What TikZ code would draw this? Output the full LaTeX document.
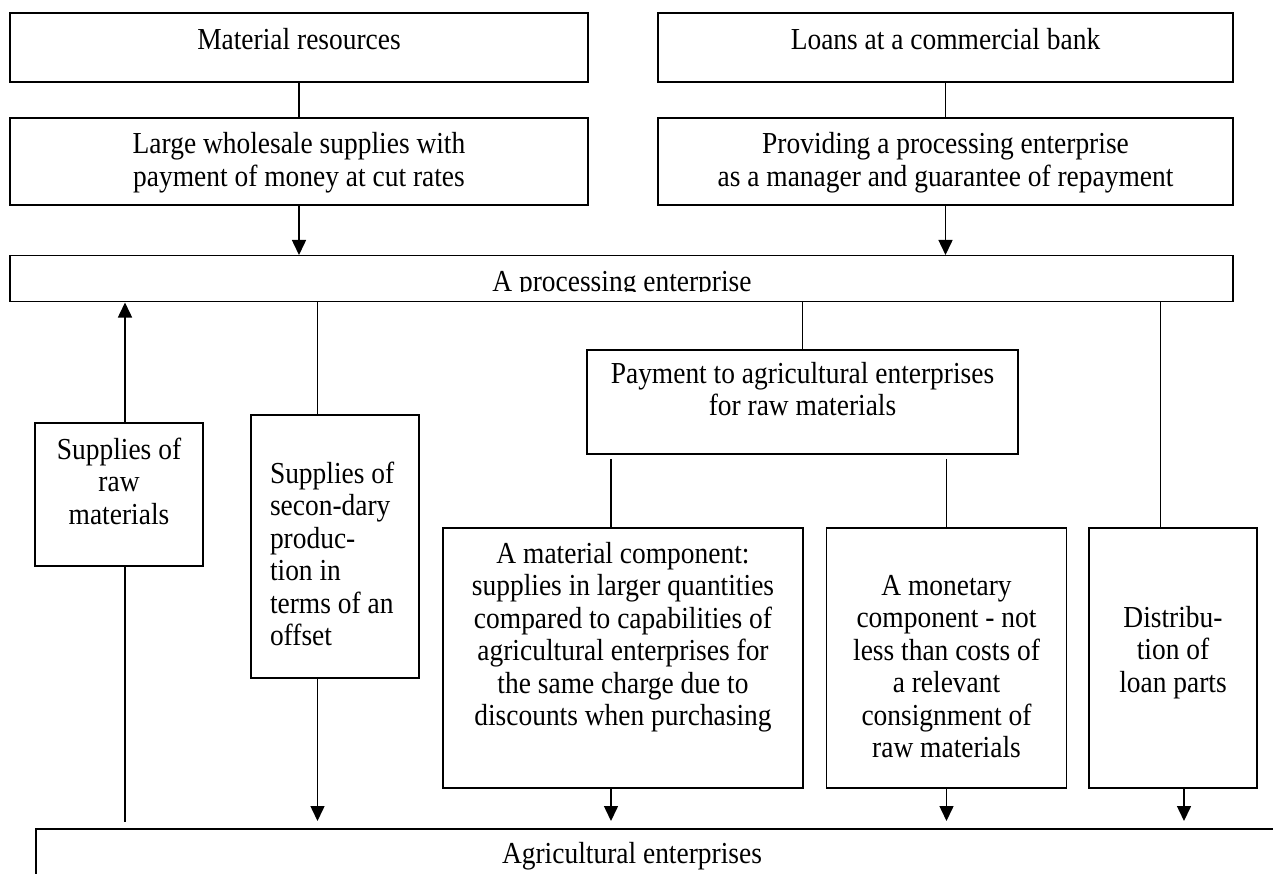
\documentclass[tikz,border=0pt]{standalone}
\usepackage{fontspec}
\setmainfont[FakeStretch=0.9]{Liberation Serif}
\usetikzlibrary{arrows.meta}
\usetikzlibrary{positioning}
\newcommand{\boxfont}{\fontsize{30.5}{32.5}\selectfont}
\tikzset{
box/.style = {draw, line width=1.5pt, inner xsep=10pt, inner ysep=0pt,
              align=flush center, font=\boxfont},
link/.style = {line width=1.5pt},
arr/.style = {line width=1.5pt, -{Triangle[width=14pt,length=15pt]}}
}
\begin{document}
\begin{tikzpicture}[x=1pt,y=-1pt]
        \clip (0,0) rectangle (1273,874);

        \node[box, anchor=base, text width=558pt, text height=36.5pt, text depth=32.5pt] (matres) at (299,49.5) {Material resources};
        \node[box, anchor=base, text width=558pt, text height=36pt, text depth=51pt] (whole) at (299,154) {Large wholesale supplies with\\ payment of money at cut rates};
        \node[box, anchor=base, text width=555pt, text height=36.5pt, text depth=32.5pt] (loans) at (945.5,49.5) {Loans at a commercial bank};
        \node[box, anchor=base, text width=555pt, text height=36pt, text depth=51pt] (provide) at (945.5,154) {Providing a processing enterprise\\ as a manager and guarantee of repayment};

        \node[box, anchor=north, minimum width=1223pt, minimum height=46pt] (proc) at (621.5,255) {};
        \begin{scope}
        \clip (proc.north west) rectangle (proc.east |- 0,292);
        \node[font=\boxfont, anchor=base] (proctext) at (622,292) {A processing enterprise};
        \end{scope}

        \node[box, anchor=base, text width=148pt, text height=36pt, text depth=107pt] (raw) at (119,459) {Supplies of\\ raw\\ materials};
        \node[box, anchor=base, align=flush left, inner xsep=19pt, text width=130pt, text height=68pt, text depth=195pt] (sec) at (335,483) {Supplies of\\ secon-dary\\ produc-\\ tion in\\ terms of an\\ offset};
        \node[box, anchor=base, text width=411pt, text height=33pt, text depth=71pt] (pay) at (802.5,383) {Payment to agricultural enterprises\\ for raw materials};
        \node[box, anchor=base, text width=340pt, text height=35pt, text depth=225pt] (mat) at (623,563) {A material component:\\ supplies in larger quantities\\ compared to capabilities of\\ agricultural enterprises for\\ the same charge due to\\ discounts when purchasing};
        \node[box, anchor=base, text width=220pt, text height=67pt, text depth=193pt] (mon) at (946.5,595) {A monetary\\ component - not\\ less than costs of\\ a relevant\\ consignment of\\ raw materials};
        \node[box, anchor=base, text width=148pt, text height=99pt, text depth=161pt] (dist) at (1173,627) {Distribu-\\ tion of\\ loan parts};

        \node[box, anchor=north west, minimum width=1300pt, minimum height=80pt] (agri) at (35,828) {};
        \node[font=\boxfont, anchor=base] (agritext) at (632,863) {Agricultural enterprises};

        \draw[link] (matres) -- (whole);
        \draw[link] (loans) -- (provide);
        \draw[arr] (whole.south) -- (whole.south |- proc.north);
        \draw[arr] (provide.south) -- (provide.south |- proc.north);

        \draw[arr] ([xshift=6pt]raw.north) -- ([xshift=6pt]raw.north |- proc.south);
        \draw[link, line width=2.6pt, shorten >=6pt] ([xshift=6pt]raw.south) -- ([xshift=6pt]raw.south |- agri.north);
        \draw[link] ([xshift=-17.5pt]sec.north |- proc.south) -- ([xshift=-17.5pt]sec.north);
        \draw[link] (pay.north |- proc.south) -- (pay.north);
        \draw[link] ([xshift=-12.5pt]dist.north |- proc.south) -- ([xshift=-12.5pt]dist.north);
        \draw[link, shorten <=4pt] ([xshift=-12pt]mat.north |- pay.south) -- ([xshift=-12pt]mat.north);
        \draw[link, shorten <=4pt] (mon.north |- pay.south) -- (mon.north);

        \draw[arr, shorten >=7pt] ([xshift=-17.5pt]sec.south) -- ([xshift=-17.5pt]sec.south |- agri.north);
        \draw[arr, shorten >=7pt] ([xshift=-12pt]mat.south) -- ([xshift=-12pt]mat.south |- agri.north);
        \draw[arr, shorten >=7pt] (mon.south) -- (mon.south |- agri.north);
        \draw[arr, shorten >=7pt] ([xshift=11pt]dist.south) -- ([xshift=11pt]dist.south |- agri.north);
\end{tikzpicture}
\end{document}
